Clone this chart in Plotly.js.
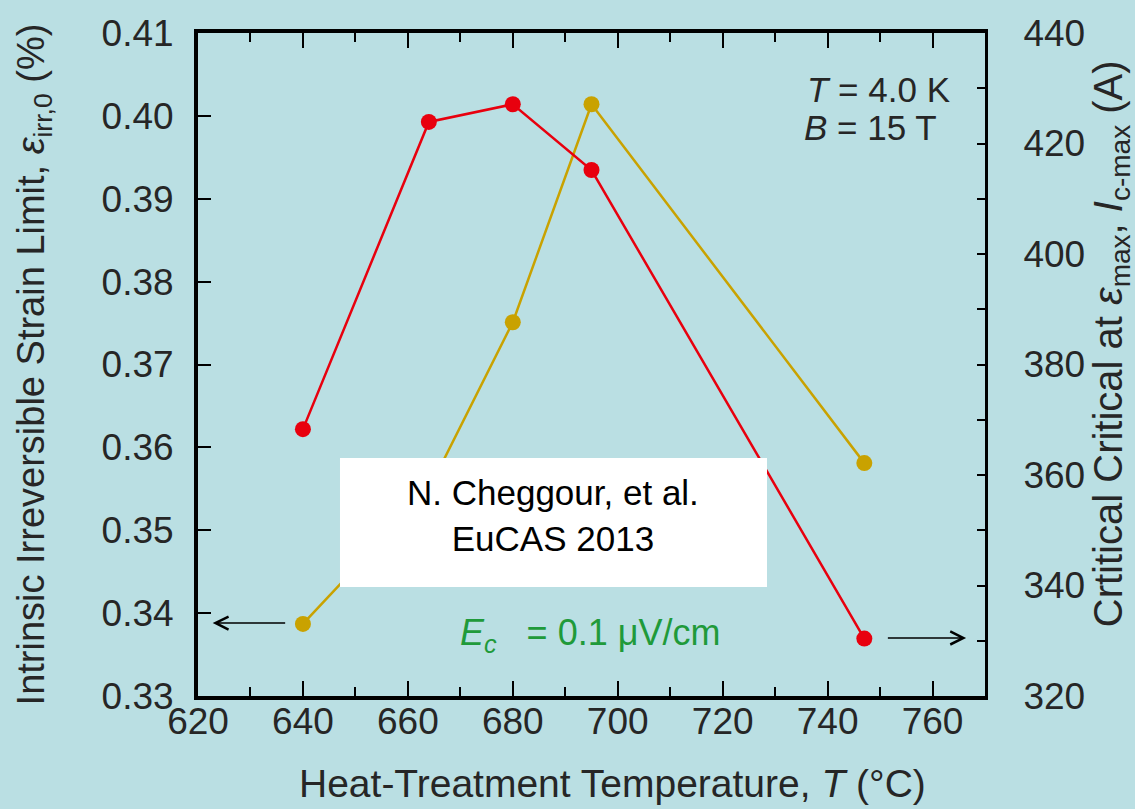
<!DOCTYPE html>
<html>
<head>
<meta charset="utf-8">
<script src="https://cdn.plot.ly/plotly-3.0.1.min.js"></script>
<style>html,body{margin:0;padding:0;background:#badfe3;}#chart{width:1135px;height:809px;}</style>
</head>
<body>
<div id="chart"></div>
<script>
// Heat-treatment temperature (°C)
const strainTemps = [640, 664, 680, 695, 747];
// Intrinsic irreversible strain limit (%), left axis
const strainLimit = [0.3387, 0.3549, 0.3751, 0.4014, 0.3581];

const currentTemps = [640, 664, 680, 695, 747];
// Critical current at eps_max (A), right axis
const criticalCurrent = [368.3, 423.9, 427.1, 415.2, 330.4];

const xTickVals = [620, 640, 660, 680, 700, 720, 740, 760];
const yLeftTicks = [0.33, 0.34, 0.35, 0.36, 0.37, 0.38, 0.39, 0.40, 0.41];
const yLeftLabels = ['0.33', '0.34', '0.35', '0.36', '0.37', '0.38', '0.39', '0.40', '0.41'];
const yRightTicks = [320, 340, 360, 380, 400, 420, 440];

const FONT = '"Liberation Sans", Arial, sans-serif';
const TXT = '#262626';
const GOLD = '#c9a200';
const RED = '#e8000e';
const GREEN = '#1f9a3a';

const traces = [
  {
    x: strainTemps, y: strainLimit, type: 'scatter', mode: 'lines+markers',
    line: {color: GOLD, width: 2.5},
    marker: {color: GOLD, size: 16},
    yaxis: 'y', showlegend: false, hoverinfo: 'x+y'
  },
  {
    x: currentTemps, y: criticalCurrent, type: 'scatter', mode: 'lines+markers',
    line: {color: RED, width: 2.5},
    marker: {color: RED, size: 16},
    yaxis: 'y2', showlegend: false, hoverinfo: 'x+y'
  }
];

const layout = {
  width: 1135, height: 809,
  paper_bgcolor: '#badfe3', plot_bgcolor: '#badfe3',
  margin: {l: 198, r: 150, t: 33, b: 113},
  font: {family: FONT, color: TXT, size: 36},
  showlegend: false,
  xaxis: {
    range: [620, 770], tickvals: xTickVals, ticktext: xTickVals.map(String),
    ticks: 'inside', ticklen: 15, tickwidth: 2, tickcolor: '#000',
    minor: {dtick: 10, tick0: 620, ticks: 'inside', ticklen: 9, tickwidth: 2, tickcolor: '#000'},
    showline: true, linecolor: '#000', linewidth: 4, mirror: 'ticks',
    showgrid: false, zeroline: false,
    tickfont: {size: 37, color: TXT}, automargin: false, ticklabelstandoff: -10
  },
  yaxis: {
    range: [0.33, 0.41], tickvals: yLeftTicks, ticktext: yLeftLabels,
    ticks: 'inside', ticklen: 13, tickwidth: 2, tickcolor: '#000',
    showline: true, linecolor: '#000', linewidth: 4, mirror: false,
    showgrid: false, zeroline: false, automargin: false,
    tickfont: {size: 37, color: TXT}, ticklabelstandoff: 13,
    title: {text: 'Intrinsic Irreversible Strain Limit, <i>ε</i><sub>irr,0</sub> (%)', font: {size: 38, color: TXT}, standoff: 46}
  },
  yaxis2: {
    range: [320, 440], tickvals: yRightTicks, ticktext: yRightTicks.map(String),
    overlaying: 'y', side: 'right',
    ticks: 'inside', ticklen: 8, tickwidth: 2, tickcolor: '#000',
    minor: {dtick: 10, tick0: 320, ticks: 'inside', ticklen: 8, tickwidth: 2, tickcolor: '#000'},
    showline: true, linecolor: '#000', linewidth: 3,
    showgrid: false, zeroline: false, automargin: false,
    tickfont: {size: 37, color: TXT}, ticklabelstandoff: 28
  },
  shapes: [
    {type: 'rect', xref: 'paper', yref: 'paper', x0: 0.1804, x1: 0.723, y0: 0.1644, y1: 0.359,
     fillcolor: '#ffffff', line: {width: 0}, layer: 'above'}
  ],
  annotations: [
    {xref: 'paper', yref: 'paper', x: 0.5273, y: -0.1327, xanchor: 'center', yanchor: 'middle', showarrow: false,
     text: 'Heat-Treatment Temperature, <i>T</i> (°C)', font: {size: 39, color: TXT}},
    {xref: 'paper', yref: 'paper', x: 1.160, y: 0.532, xanchor: 'center', yanchor: 'middle', showarrow: false,
     textangle: -90, text: 'Crtitical Critical at <i>ε</i><sub>max</sub>, <i>I</i><sub>c-max</sub> (A)',
     font: {size: 40, color: TXT}},
    {xref: 'paper', yref: 'paper', x: 0.771, y: 0.915, xanchor: 'left', yanchor: 'middle', showarrow: false,
     text: '<i>T</i> = 4.0 K', font: {size: 35, color: TXT}},
    {xref: 'paper', yref: 'paper', x: 0.768, y: 0.858, xanchor: 'left', yanchor: 'middle', showarrow: false,
     text: '<i>B</i> = 15 T', font: {size: 35, color: TXT}},
    {xref: 'paper', yref: 'paper', x: 0.4505, y: 0.273, xanchor: 'center', yanchor: 'middle', showarrow: false,
     text: 'N. Cheggour, et al.<br>EuCAS 2013', align: 'center', font: {size: 35, color: '#000'}},
    {xref: 'paper', yref: 'paper', x: 0.330, y: 0.092, xanchor: 'left', yanchor: 'middle', showarrow: false,
     text: '<i>E</i><sub><i>c</i></sub>   = 0.1 μV/cm', font: {size: 36, color: GREEN}},
    {xref: 'x', yref: 'y', axref: 'x', ayref: 'y', x: 622.8, y: 0.3388, ax: 636.9, ay: 0.3388,
     showarrow: true, arrowhead: 5, arrowsize: 1.6, arrowwidth: 1.6, arrowcolor: '#000', text: ''},
    {xref: 'x', yref: 'y2', axref: 'x', ayref: 'y2', x: 766.4, y: 330.5, ax: 751.2, ay: 330.5,
     showarrow: true, arrowhead: 5, arrowsize: 1.6, arrowwidth: 1.6, arrowcolor: '#000', text: ''}
  ]
};

Plotly.newPlot('chart', traces, layout, {displayModeBar: false, staticPlot: true});
</script>
</body>
</html>
